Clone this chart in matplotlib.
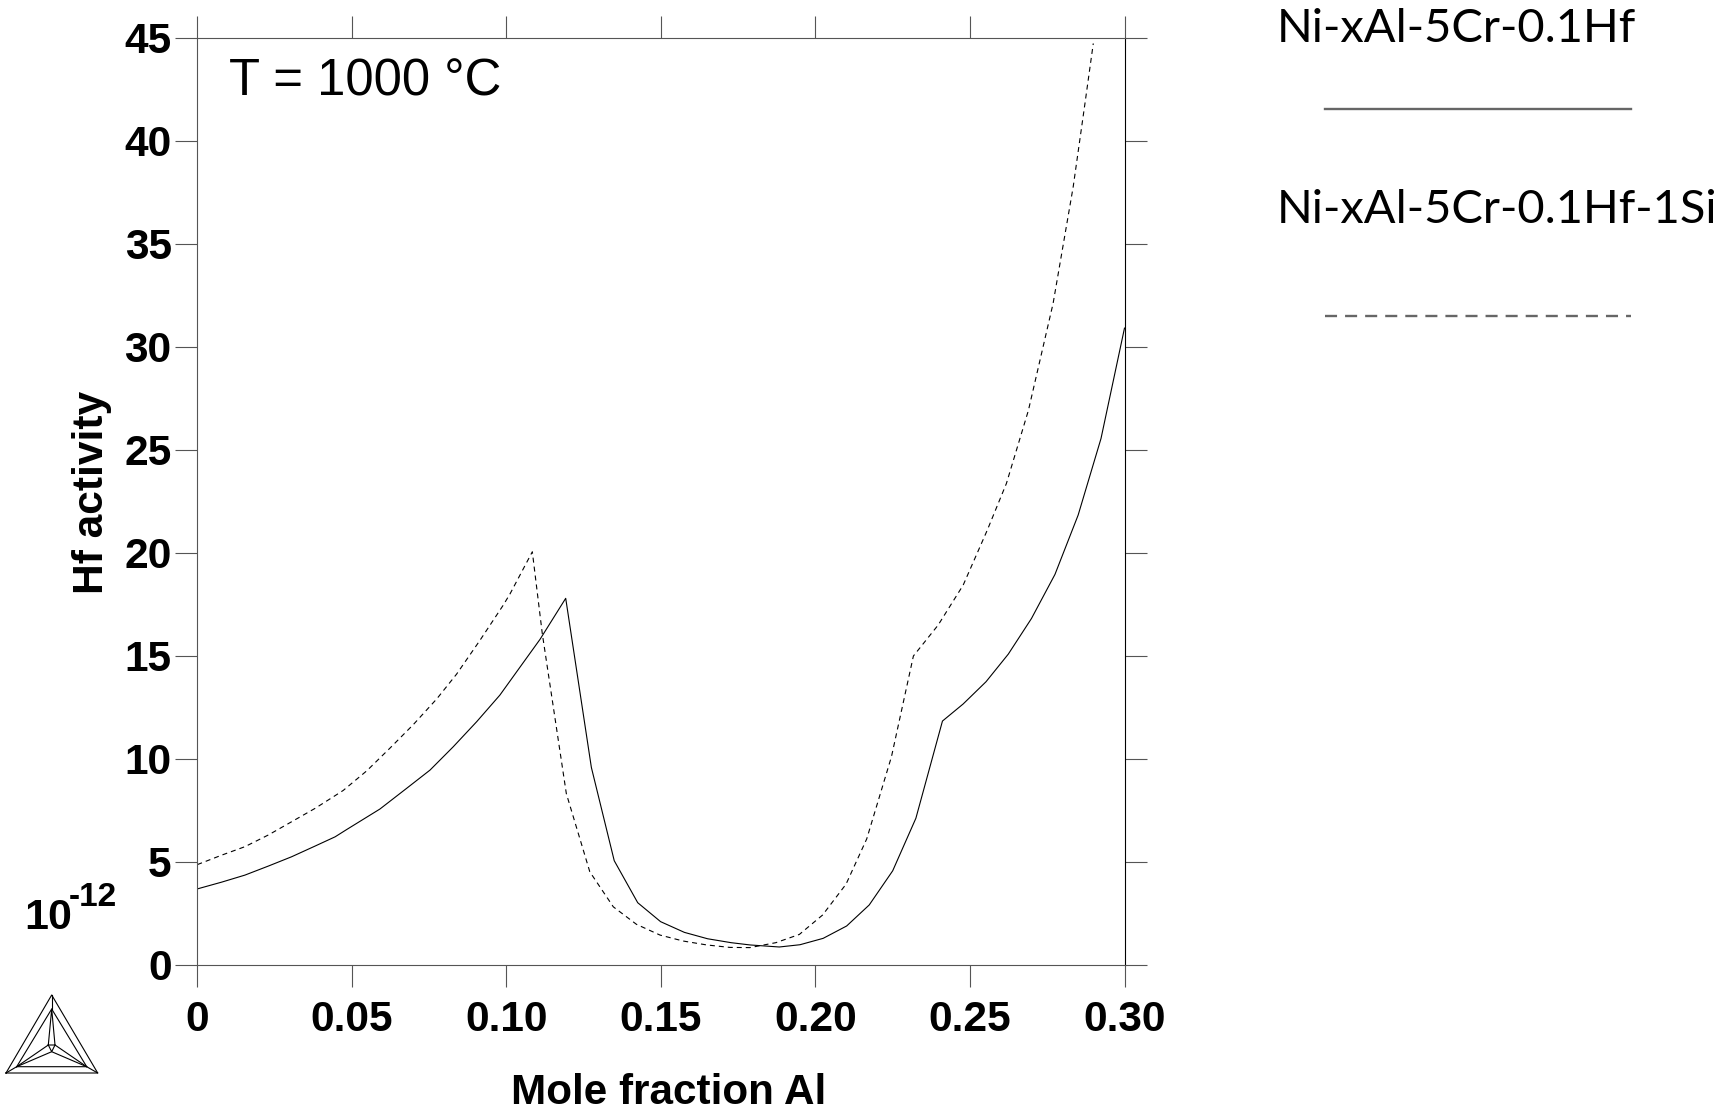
"""Hf activity vs Al mole fraction at 1000 C, two alloys (Thermo-Calc style plot)."""
import matplotlib
matplotlib.use('Agg')
import matplotlib.pyplot as plt
from matplotlib.lines import Line2D
from matplotlib.transforms import Affine2D

W, H = 1735, 1110

x_ticks = [0, 0.05, 0.10, 0.15, 0.20, 0.25, 0.30]
x_labels = ['0', '0.05', '0.10', '0.15', '0.20', '0.25', '0.30']
y_ticks = [0, 5, 10, 15, 20, 25, 30, 35, 40, 45]

# Ni-xAl-5Cr-0.1Hf
x_base = [0, .0079, .0154, .023, .0305, .0381, .0446, .0483, .0591, .0677, .0753,
          .0828, .0904, .0979, .1049, .1109,
          .1192, .1275, .1349, .1425, .1499, .1576, .1651, .1727, .1788, .1883,
          .195, .2025, .2101, .2174, .225, .2325, .2411, .2478, .2552, .2624,
          .2699, .2775, .285, .2924, .30]
y_base = [3.67, 4.0, 4.34, 4.78, 5.23, 5.75, 6.2, 6.55, 7.55, 8.55, 9.44,
          10.57, 11.79, 13.08, 14.54, 15.79,
          17.78, 9.57, 5.04, 3.0, 2.08, 1.56, 1.25, 1.06, .95, .85,
          .96, 1.27, 1.87, 2.89, 4.55, 7.1, 11.82, 12.65, 13.73, 15.07,
          16.8, 18.94, 21.82, 25.54, 30.9]

# Ni-xAl-5Cr-0.1Hf-1Si
x_si = [0, .0079, .0154, .023, .0305, .0381, .0446, .0472, .0548, .0623, .0699,
        .0775, .0839, .0915, .099, .1012,
        .1084, .1116, .1194, .127, .1346, .1421, .1497, .1572, .1648, .1723,
        .1788, .1872, .1948, .2023, .2099, .2166, .2246, .2317, .2397, .2478,
        .2556, .2618, .2689, .2769, .2834, .2872, .2899]
y_si = [4.85, 5.31, 5.72, 6.29, 6.93, 7.58, 8.2, 8.45, 9.4, 10.5, 11.65,
        12.9, 14.1, 15.75, 17.45, 18.0,
        20.04, 16.09, 8.3, 4.5, 2.8, 1.95, 1.43, 1.14, .95, .83,
        .82, 1.06, 1.46, 2.4, 3.9, 6.1, 10.09, 14.98, 16.48, 18.42,
        21.09, 23.36, 26.9, 32.1, 37.76, 41.8, 44.72]

legend_names = ['Ni-xAl-5Cr-0.1Hf', 'Ni-xAl-5Cr-0.1Hf-1Si']

# logo strokes, reference pixels
LOGO = [
    [(6, 1073), (51.7, 995), (97.7, 1073), (6, 1073)],
    [(16.7, 1066.7), (51.7, 1009), (86.7, 1066.7), (16.7, 1066.7)],
    [(6, 1073), (16.7, 1066.7)], [(97.7, 1073), (86.7, 1066.7)],
    [(51.7, 995), (51.7, 1009)],
    [(48.3, 1045), (51.7, 1009), (55, 1045), (48.3, 1045)],
    [(48.3, 1045), (51.7, 1051.7), (55, 1045)],
    [(16.7, 1066.7), (48.3, 1045)], [(86.7, 1066.7), (55, 1045)],
    [(16.7, 1066.7), (51.7, 1051.7), (86.7, 1066.7)],
]

GREY = '#555555'
SANS = ['Liberation Sans', 'DejaVu Sans']

fig = plt.figure(figsize=(W / 100, H / 100), dpi=100)
px = Affine2D().scale(1 / W, -1 / H).translate(0, 1) + fig.transFigure


def ptext(x, y, s, **kw):
    kw.setdefault('family', SANS)
    kw.setdefault('va', 'baseline')
    return fig.text(x / W, 1 - y / H, s, **kw)


ax = fig.add_axes([197.3 / W, 1 - 964.5 / H, 927.2 / W, 926.8 / H])
ax.plot(x_base, y_base, color='black', lw=0.8)
ax.plot(x_si, y_si, color='black', lw=0.8, linestyle=(0, (4.5, 3.6)))
ax.set_xlim(0, 0.30)
ax.set_ylim(0, 45)

ax.set_xticks(x_ticks)
ax.set_xticklabels(x_labels)
ax.set_yticks(y_ticks)
ax.tick_params(top=True, right=True, length=15.84, width=0.8, color=GREY,
               labelsize=30.6, pad=2.6)
ax.tick_params(axis='x', pad=10)
for lab in ax.get_xticklabels() + ax.get_yticklabels():
    lab.set_family(SANS)
    lab.set_fontweight('bold')
for name in ('left', 'top', 'bottom'):
    ax.spines[name].set_color(GREY)
    ax.spines[name].set_linewidth(0.8)
ax.spines['right'].set_color('black')
ax.spines['right'].set_linewidth(0.8)

ptext(668.5, 1104, 'Mole fraction Al', ha='center', fontsize=30.4, fontweight='bold')
ptext(92, 492, 'Hf activity', ha='center', va='center', rotation=90,
      rotation_mode='anchor', fontsize=30.6, fontweight='bold')
ptext(229, 96, 'T = 1000 °C', fontsize=36.6)
ptext(24, 929, '10', fontsize=31, fontweight='bold')
ptext(69, 906, '-12', fontsize=24, fontweight='bold')

for stroke in LOGO:
    xs, ys = zip(*stroke)
    fig.add_artist(Line2D(xs, ys, transform=px, color='black', lw=0.8))

# legend is laid out by hand, well away from the axes
ptext(1277, 41.7, legend_names[0], family=['Lato', 'DejaVu Sans'], fontsize=33.8)
ptext(1277, 223, legend_names[1], family=['Lato', 'DejaVu Sans'], fontsize=33.8)
fig.add_artist(Line2D([1325, 1631], [109, 109], transform=px, color='#666666', lw=1.7))
fig.add_artist(Line2D([1325, 1631], [316, 316], transform=px, color='#666666', lw=1.7,
                      linestyle=(0, (5.1, 3.4))))

fig.savefig('out.png', dpi=100)
